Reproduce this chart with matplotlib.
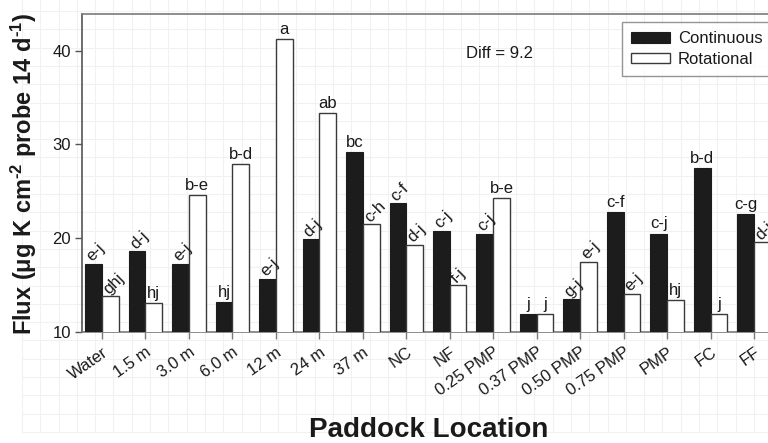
import matplotlib
matplotlib.use("Agg")
import matplotlib.pyplot as plt
from matplotlib.lines import Line2D
from matplotlib.patches import Patch
import numpy as np

plt.rcParams['font.family'] = ['Liberation Sans', 'DejaVu Sans']
plt.rcParams['mathtext.fontset'] = 'custom'
plt.rcParams['mathtext.rm'] = 'Liberation Sans:bold'
plt.rcParams['mathtext.bf'] = 'Liberation Sans:bold'
plt.rcParams['mathtext.it'] = 'Liberation Sans:bold'

# Paddock locations and mean flux per grazing system
locations = ["Water", "1.5 m", "3.0 m", "6.0 m", "12 m", "24 m", "37 m", "NC", "NF",
             "0.25 PMP", "0.37 PMP", "0.50 PMP", "0.75 PMP", "PMP", "FC", "FF"]
continuous = [17.3, 18.6, 17.3, 13.2, 15.7, 19.9, 29.2, 23.7, 20.8, 20.5,
              11.9, 13.5, 22.8, 20.5, 27.5, 22.6]
rotational = [13.8, 13.1, 24.6, 27.9, 41.2, 33.3, 21.5, 19.3, 15.0, 24.3,
              11.9, 17.5, 14.1, 13.4, 11.9, 19.6]

# Mean separation letters
continuous_letters = ["e-j", "d-j", "e-j", "hj", "e-j", "d-j", "bc", "c-f", "c-j", "c-j",
                      "j", "g-j", "c-f", "c-j", "b-d", "c-g"]
rotational_letters = ["ghj", "hj", "b-e", "b-d", "a", "ab", "c-h", "d-j", "f-j", "b-e",
                      "j", "e-j", "e-j", "hj", "j", "d-j"]

# Which letters are drawn tilted (to avoid crowding)
continuous_tilt = [1, 1, 1, 0, 1, 1, 0, 1, 1, 1, 0, 1, 0, 0, 0, 0]
rotational_tilt = [1, 0, 0, 0, 0, 0, 1, 1, 1, 0, 0, 1, 1, 0, 0, 1]

yticks = [10, 20, 30, 40]
diff_text = "Diff = 9.2"

W, H, DPI = 768, 443, 100
fig = plt.figure(figsize=(W / DPI, H / DPI), dpi=DPI)


def fx(px):
    return px / W


def fy(py):
    return (H - py) / H


# faint page grid behind the figure
gc = "#f1f1f1"
for gx in np.arange(22, W, 18.3):
    fig.add_artist(Line2D([fx(gx), fx(gx)], [fy(432), 1], color=gc, lw=0.8, zorder=-10))
for gy in np.arange(432, 0, -18.3):
    fig.add_artist(Line2D([fx(22), 1], [fy(gy), fy(gy)], color=gc, lw=0.8, zorder=-10))

ax_l, ax_r, ax_t, ax_b = 82, 774, 14, 332
ax = fig.add_axes([fx(ax_l), fy(ax_b), (ax_r - ax_l) / W, (ax_b - ax_t) / H])
ax.patch.set_alpha(0)

x = np.arange(len(locations))
bw = 0.385
edge = "#3a3a3a"
ax.bar(x - bw / 2, continuous, bw, color="#1c1c1c", edgecolor="#1c1c1c",
       linewidth=0.8, label="Continuous", zorder=3)
ax.bar(x + bw / 2, rotational, bw, color="white", edgecolor=edge,
       linewidth=1.0, label="Rotational", zorder=3)

ax.set_xlim(-0.46, 15.46)
ax.set_ylim(10, 43.9)

fs = 12
tcol = "#1a1a1a"


def put_letter(xc, val, txt, tilt):
    if tilt:
        ax.annotate(txt, xy=(xc, val), xytext=(-1.0, 1.0), textcoords="offset points",
                    rotation=45, rotation_mode="anchor", ha="left", va="baseline",
                    fontsize=fs, color=tcol, zorder=4)
    else:
        ax.annotate(txt, xy=(xc, val), xytext=(0, 1.5), textcoords="offset points",
                    ha="center", va="bottom", fontsize=fs, color=tcol, zorder=4)


for i in range(len(locations)):
    put_letter(x[i] - bw / 2, continuous[i], continuous_letters[i], continuous_tilt[i])
    put_letter(x[i] + bw / 2, rotational[i], rotational_letters[i], rotational_tilt[i])

# spines and ticks
for s in ["top", "left", "bottom"]:
    ax.spines[s].set_color("#7a7a7a")
    ax.spines[s].set_linewidth(1.2)
ax.spines["left"].set_color("#555555")
ax.spines["right"].set_visible(False)

ax.set_yticks(yticks)
ax.set_xticks(x)
ax.set_xticklabels(locations, rotation=35, ha="right", va="top",
                   rotation_mode="anchor", fontsize=fs, color=tcol)
ax.tick_params(axis="x", direction="out", length=5, width=1, color="#7a7a7a", pad=4)
ax.tick_params(axis="y", direction="out", length=5, width=1, color="#555555",
               labelsize=fs, labelcolor=tcol, pad=3)

# axis titles
fig.text(fx(32), fy(174), "Flux (μg K cm$^{\\text{-2}}$ probe 14 d$^{\\text{-1}}$)",
         rotation=90, rotation_mode="anchor", ha="center", va="baseline",
         fontsize=17, fontweight="bold", color=tcol)
fig.text(fx(429), fy(437), "Paddock Location", ha="center", va="baseline",
         fontsize=20, fontweight="bold", color=tcol)

fig.text(fx(500), fy(53), diff_text, ha="center", va="center", fontsize=fs, color=tcol)

handles = [Patch(facecolor="#1c1c1c", edgecolor="#1c1c1c", linewidth=0.8),
           Patch(facecolor="white", edgecolor=edge, linewidth=1.0)]
leg = ax.legend(handles, ["Continuous", "Rotational"], loc="upper left",
                bbox_to_anchor=(fx(622), fy(22)), bbox_transform=fig.transFigure,
                fontsize=fs, frameon=True, fancybox=False, borderpad=0.55,
                handlelength=2.3, handleheight=0.6, handletextpad=0.5,
                labelspacing=0.35, borderaxespad=0)
leg.get_frame().set_edgecolor("#7a7a7a")
leg.get_frame().set_linewidth(1.0)
for t in leg.get_texts():
    t.set_color(tcol)

fig.savefig("out.png", dpi=DPI)
